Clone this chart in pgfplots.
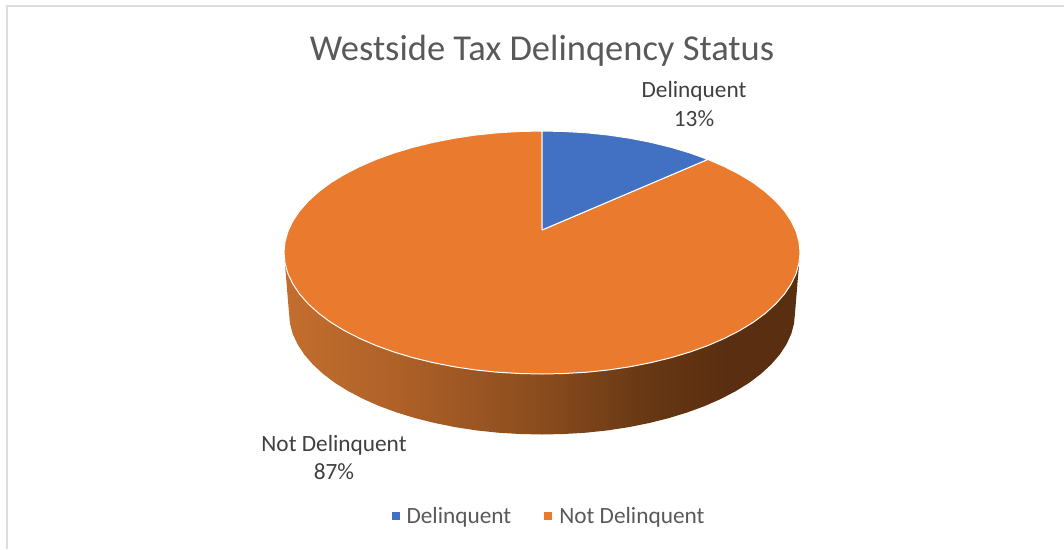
\documentclass[border=0pt]{standalone}
\usepackage{pgfplots}
\pgfplotsset{compat=1.18}
\usepackage{fontspec}
\setmainfont{Carlito}
\definecolor{blueS}{HTML}{4270C2}
\definecolor{orangeS}{HTML}{EA7B2E}
\definecolor{titleC}{HTML}{595959}
\definecolor{labelC}{HTML}{404040}
\definecolor{frameC}{HTML}{DDDDDD}
\definecolor{g1}{HTML}{C46E2E}
\definecolor{g2}{HTML}{AE6128}
\definecolor{g3}{HTML}{8A4C1E}
\definecolor{g4}{HTML}{683814}
\definecolor{g5}{HTML}{5A2E10}
\pgfdeclarehorizontalshading{sidegrad}{100bp}{color(0bp)=(g1);color(25bp)=(g1);color(36bp)=(g2);color(50bp)=(g3);color(60bp)=(g4);color(68bp)=(g5);color(100bp)=(g5)}
\begin{document}
\begin{tikzpicture}
\begin{axis}[
  scale only axis, width=1064pt, height=549pt,
  xmin=0, xmax=1064, ymin=0, ymax=549, y dir=reverse,
  axis lines=none, clip=false,
  legend style={at={(axis cs:549,516)}, anchor=center, draw=none, fill=none,
    legend columns=2, font=\fontsize{23.3}{27}\selectfont\color{titleC},
    /tikz/every even column/.append style={column sep=31pt},
    legend cell align=left},
  legend image code/.code={\path[draw=none,fill=none] (0pt,0pt) -- (13pt,0pt); \fill[#1,draw=none] (0pt,-4pt) rectangle (8pt,4pt);},
]
\path[use as bounding box] (axis cs:0,0) rectangle (axis cs:1064,549);
% frame
\addplot[forget plot, frameC, line width=2pt] coordinates {(7,549)(7,5.5)(1064,5.5)};
% side wall
\addplot[forget plot, shade, shading=sidegrad, draw=none] coordinates {
(800,252.5)(799,263.1)(796.1,273.6)(791.2,283.9)(784.4,294.1)(775.8,303.8)(765.4,313.25)(753.4,322.2)(739.6,330.6)(724.4,338.4)(707.8,345.6)(690,352)(671,357.7)(651,362.6)(630.2,366.7)(608.8,369.9)(586.8,372.2)(564.5,373.5)(542,374)
(519.5,373.5)(497.2,372.2)(475.2,369.9)(453.8,366.7)(433,362.6)(413,357.7)(394,352)(376.2,345.6)(359.6,338.4)(344.4,330.6)(330.6,322.2)(318.6,313.25)(308.2,303.8)(299.6,294.1)(292.8,283.9)(287.9,273.6)(285,263.1)(284,252.5)
(289,313)(290,323.6)(292.8,334.1)(297.6,344.4)(304.3,354.6)(312.7,364.3)(322.9,373.75)(334.7,382.7)(348.2,391.1)(363.1,398.9)(379.4,406.1)(396.9,412.5)(415.5,418.2)(435.1,423.1)(455.5,427.2)(476.5,430.4)(498.1,432.7)(519.9,434)(542,434.5)
(564.1,434)(585.9,432.7)(607.5,430.4)(628.5,427.2)(648.9,423.1)(668.5,418.2)(687.1,412.5)(704.6,406.1)(720.9,398.9)(735.8,391.1)(749.3,382.7)(761.1,373.75)(771.3,364.3)(779.7,354.6)(786.4,344.4)(791.2,334.1)(794,323.6)(795,313)
(800,252.5)
};
% Not Delinquent 87%
\addplot[forget plot, fill=orangeS, draw=white, line width=1pt, line join=round] coordinates {
(542,230)(707.8,159.4)(724.4,166.6)(739.6,174.4)(753.4,182.8)(765.4,191.75)(775.8,201.2)(784.4,210.9)(791.2,221.1)(796.1,231.4)(799,241.9)(800,252.5)
(799,263.1)(796.1,273.6)(791.2,283.9)(784.4,294.1)(775.8,303.8)(765.4,313.25)(753.4,322.2)(739.6,330.6)(724.4,338.4)(707.8,345.6)(690,352)(671,357.7)(651,362.6)(630.2,366.7)(608.8,369.9)(586.8,372.2)(564.5,373.5)(542,374)
(519.5,373.5)(497.2,372.2)(475.2,369.9)(453.8,366.7)(433,362.6)(413,357.7)(394,352)(376.2,345.6)(359.6,338.4)(344.4,330.6)(330.6,322.2)(318.6,313.25)(308.2,303.8)(299.6,294.1)(292.8,283.9)(287.9,273.6)(285,263.1)(284,252.5)
(285,241.9)(287.9,231.4)(292.8,221.1)(299.6,210.9)(308.2,201.2)(318.6,191.75)(330.6,182.8)(344.4,174.4)(359.6,166.6)(376.2,159.4)(394,153)(413,147.3)(433,142.4)(453.8,138.3)(475.2,135.1)(497.2,132.8)(519.5,131.5)(542,131)
(542,230)
};
% Delinquent 13%
\addplot[forget plot, fill=blueS, draw=white, line width=1pt, line join=round] coordinates {
(542,230)(542,131)(564.5,131.5)(586.8,132.8)(608.8,135.1)(630.2,138.3)(651,142.4)(671,147.3)(690,153)(707.8,159.4)(542,230)
};
\addlegendimage{fill=blueS}
\addlegendentry{Delinquent}
\addlegendimage{fill=orangeS}
\addlegendentry{Not Delinquent}
\node[text=titleC, font=\fontsize{36.5}{44}\selectfont] at (axis cs:542,51) {Westside Tax Delinqency Status};
\node[text=labelC, font=\fontsize{23.3}{28.5}\selectfont, align=center] at (axis cs:694,104) {Delinquent\\13\%};
\node[text=labelC, font=\fontsize{23.3}{28.5}\selectfont, align=center] at (axis cs:334,457.5) {Not Delinquent\\87\%};
\end{axis}
\end{tikzpicture}
\end{document}
